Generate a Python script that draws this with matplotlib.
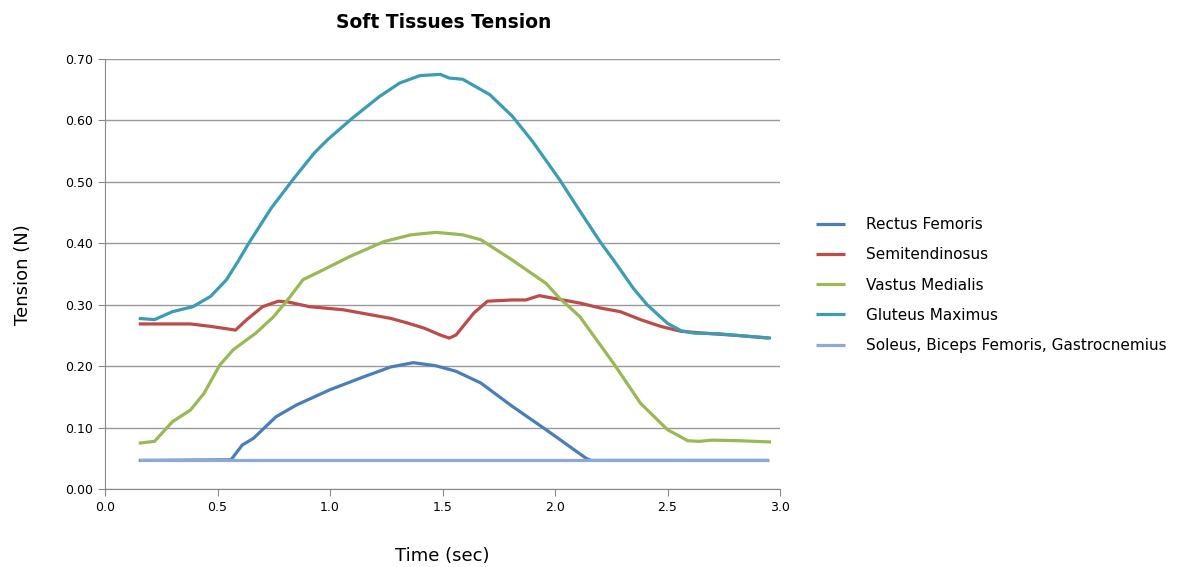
import numpy as np
import matplotlib
matplotlib.use("Agg")
import matplotlib.pyplot as plt

# values
t_rectus = [0.15, 0.56, 0.61, 0.66, 0.76, 0.85, 1.00, 1.15, 1.27, 1.37, 1.47, 1.56, 1.67, 1.81, 1.96, 2.14, 2.16, 2.95]
v_rectus = [0.047, 0.048, 0.072, 0.083, 0.118, 0.137, 0.162, 0.183, 0.199, 0.206, 0.201, 0.192, 0.173, 0.135, 0.097, 0.050, 0.047, 0.047]

t_semi = [0.15, 0.38, 0.47, 0.58, 0.63, 0.70, 0.77, 0.81, 0.91, 1.06, 1.27, 1.34, 1.42, 1.49, 1.53, 1.56, 1.64, 1.70,
          1.81, 1.87, 1.93, 1.99, 2.11, 2.20, 2.29, 2.38, 2.47, 2.56, 2.63, 2.70, 2.82, 2.95]
v_semi = [0.269, 0.269, 0.265, 0.259, 0.276, 0.297, 0.306, 0.305, 0.297, 0.292, 0.278, 0.271, 0.262, 0.251, 0.246, 0.251,
          0.287, 0.306, 0.308, 0.308, 0.315, 0.311, 0.303, 0.295, 0.289, 0.276, 0.265, 0.257, 0.255, 0.253, 0.250, 0.246]

t_vastus = [0.15, 0.22, 0.30, 0.38, 0.44, 0.51, 0.57, 0.67, 0.75, 0.82, 0.88, 0.97, 1.09, 1.24, 1.36, 1.47, 1.59, 1.67,
            1.81, 1.96, 2.02, 2.11, 2.26, 2.38, 2.50, 2.59, 2.64, 2.70, 2.82, 2.96]
v_vastus = [0.075, 0.078, 0.110, 0.129, 0.156, 0.202, 0.227, 0.254, 0.281, 0.312, 0.341, 0.357, 0.379, 0.403, 0.414, 0.418,
            0.414, 0.406, 0.373, 0.335, 0.311, 0.281, 0.205, 0.140, 0.097, 0.079, 0.078, 0.080, 0.079, 0.077]

t_gluteus = [0.15, 0.22, 0.30, 0.39, 0.47, 0.54, 0.59, 0.64, 0.74, 0.84, 0.93, 0.99, 1.10, 1.22, 1.31, 1.40, 1.49, 1.53,
             1.59, 1.71, 1.81, 1.90, 2.02, 2.11, 2.20, 2.26, 2.35, 2.41, 2.50, 2.56, 2.62, 2.73, 2.82, 2.96]
v_gluteus = [0.278, 0.276, 0.289, 0.297, 0.314, 0.341, 0.370, 0.401, 0.458, 0.506, 0.547, 0.569, 0.604, 0.639, 0.661,
             0.673, 0.675, 0.669, 0.667, 0.642, 0.607, 0.566, 0.504, 0.453, 0.403, 0.373, 0.326, 0.300, 0.270, 0.258,
             0.254, 0.253, 0.250, 0.246]

t_soleus = [0.15, 2.95]
v_soleus = [0.047, 0.047]

labels = ["Rectus Femoris", "Semitendinosus", "Vastus Medialis", "Gluteus Maximus",
          "Soleus, Biceps Femoris, Gastrocnemius"]
colors = ["#4A7EBB", "#BE4B48", "#98B954", "#3B9CB6", "#8EA9D6"]

fig = plt.figure(figsize=(11.8, 5.67), dpi=100)
ax = fig.add_axes([105/1180, 1-489.3/567, 675/1180, (489.3-59)/567])

series = [(t_rectus, v_rectus), (t_semi, v_semi), (t_vastus, v_vastus), (t_gluteus, v_gluteus), (t_soleus, v_soleus)]
for (t, v), lab, c in zip(series, labels, colors):
  ax.plot(t, v, color=c, lw=2.3, label=lab, solid_capstyle="butt", solid_joinstyle="round")

ax.set_xlim(0, 3.0)
ax.set_ylim(0, 0.70)
ax.set_xticks(np.arange(0, 3.01, 0.5))
ax.set_yticks(np.arange(0, 0.701, 0.1))
ax.set_xticklabels(["%.1f" % x for x in np.arange(0, 3.01, 0.5)])
ax.set_yticklabels(["%.2f" % y for y in np.arange(0, 0.701, 0.1)])
ax.tick_params(labelsize=9, color="#888888", length=5, direction="out")
ax.grid(axis="y", color="#999999", lw=1)
ax.set_axisbelow(True)
for s in ["top", "right"]:
  ax.spines[s].set_visible(False)
for s in ["left", "bottom"]:
  ax.spines[s].set_color("#888888")

ax.set_xlabel("Time (sec)", fontsize=13, labelpad=24)
ax.set_ylabel("Tension (N)", fontsize=13, labelpad=24)
fig.text(444/1180, 1-22/567, "Soft Tissues Tension", fontsize=13.5, fontweight="bold", ha="center", va="center")

ax.legend(loc="upper left", bbox_to_anchor=(816/1180, 1-217/567), bbox_transform=fig.transFigure,
          frameon=False, fontsize=11, handlelength=1.9, handletextpad=1.4, labelspacing=1.0, borderpad=0,
          borderaxespad=0)

fig.savefig("out.png", dpi=100)
